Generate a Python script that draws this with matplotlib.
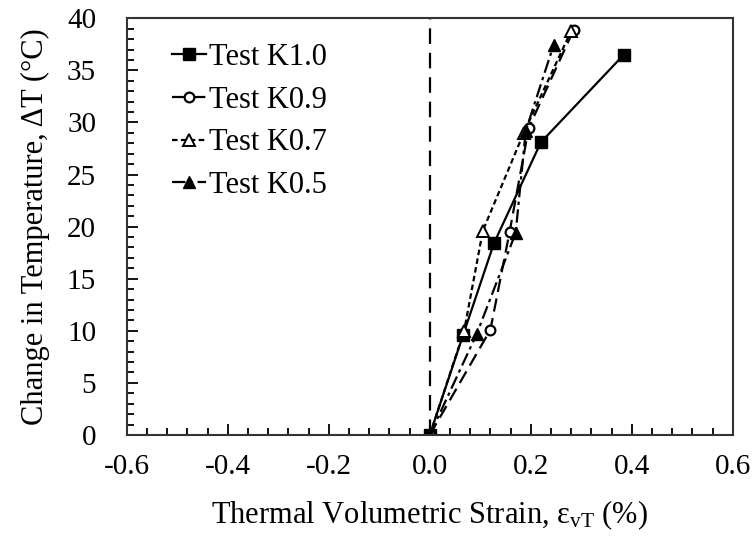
import numpy as np
from matplotlib import pyplot as plt
from matplotlib.ticker import MultipleLocator

plt.rcParams['font.family'] = ['Liberation Serif', 'DejaVu Serif']
plt.rcParams['mathtext.fontset'] = 'custom'
plt.rcParams['mathtext.rm'] = 'Liberation Serif'
plt.rcParams['mathtext.it'] = 'Liberation Serif'

# data
x_k10 = [0, 0.066, 0.127, 0.22, 0.384]
y_k10 = [0, 9.6, 18.4, 28.1, 36.5]
x_k09 = [0, 0.12, 0.158, 0.196, 0.285]
y_k09 = [0, 10.1, 19.5, 29.5, 38.9]
x_k07 = [0, 0.068, 0.105, 0.186, 0.28]
y_k07 = [0, 10.0, 19.6, 29.0, 38.8]
x_k05 = [0, 0.093, 0.17, 0.19, 0.245]
y_k05 = [0, 9.7, 19.4, 29.2, 37.4]
labels = ['Test K1.0', 'Test K0.9', 'Test K0.7', 'Test K0.5']

fig = plt.figure(figsize=(7.54, 5.37), dpi=100)
ax = fig.add_axes([0.168, 0.19, 0.804, 0.776])

ax.axvline(0, color='black', lw=1.6, dashes=(7, 4), zorder=1)

ax.plot(x_k10, y_k10, color='black', lw=1.6, ls='-', marker='s', ms=9,
        mfc='black', label=labels[0])
ax.plot(x_k09, y_k09, color='black', lw=1.6, dashes=(6, 3), marker='o', ms=7,
        mfc='white', mew=1.6, label=labels[1])
ax.plot(x_k07, y_k07, color='black', lw=1.6, dashes=(2.5, 1.5), marker='^', ms=8,
        mfc='white', mew=1.4, label=labels[2])
ax.plot(x_k05, y_k05, color='black', lw=1.6, dashes=(6, 2, 1.5, 2), marker='^', ms=9,
        mfc='black', label=labels[3])

ax.set_xlim(-0.6, 0.6)
ax.set_ylim(0, 40)
ax.xaxis.set_major_locator(MultipleLocator(0.2))
ax.xaxis.set_minor_locator(MultipleLocator(0.04))
ax.yaxis.set_major_locator(MultipleLocator(5))
ax.yaxis.set_minor_locator(MultipleLocator(1))
ax.xaxis.set_major_formatter(plt.FuncFormatter(lambda v, p: '%.1f' % v if abs(v) > 1e-9 else '0.0'))
ax.tick_params(which='both', direction='in', labelsize=21, width=1.3)
ax.tick_params(which='major', length=8)
ax.tick_params(which='minor', length=5)
ax.tick_params(axis='x', pad=14)
ax.tick_params(axis='y', pad=22)
for s in ax.spines.values():
    s.set_linewidth(1.5)
    s.set_color('#333333')

ax.set_xlabel(r'Thermal Volumetric Strain, $\mathregular{\varepsilon_{vT}}$ (%)', fontsize=22, labelpad=13)
ax.set_ylabel('Change in Temperature, ΔT (°C)', fontsize=22, labelpad=12)

ax.legend(loc='upper left', frameon=False, fontsize=22, handlelength=1.1,
          handletextpad=0.1, labelspacing=0.45, borderaxespad=0.2,
          bbox_to_anchor=(0.045, 0.985))

fig.savefig('out.png', dpi=100)
